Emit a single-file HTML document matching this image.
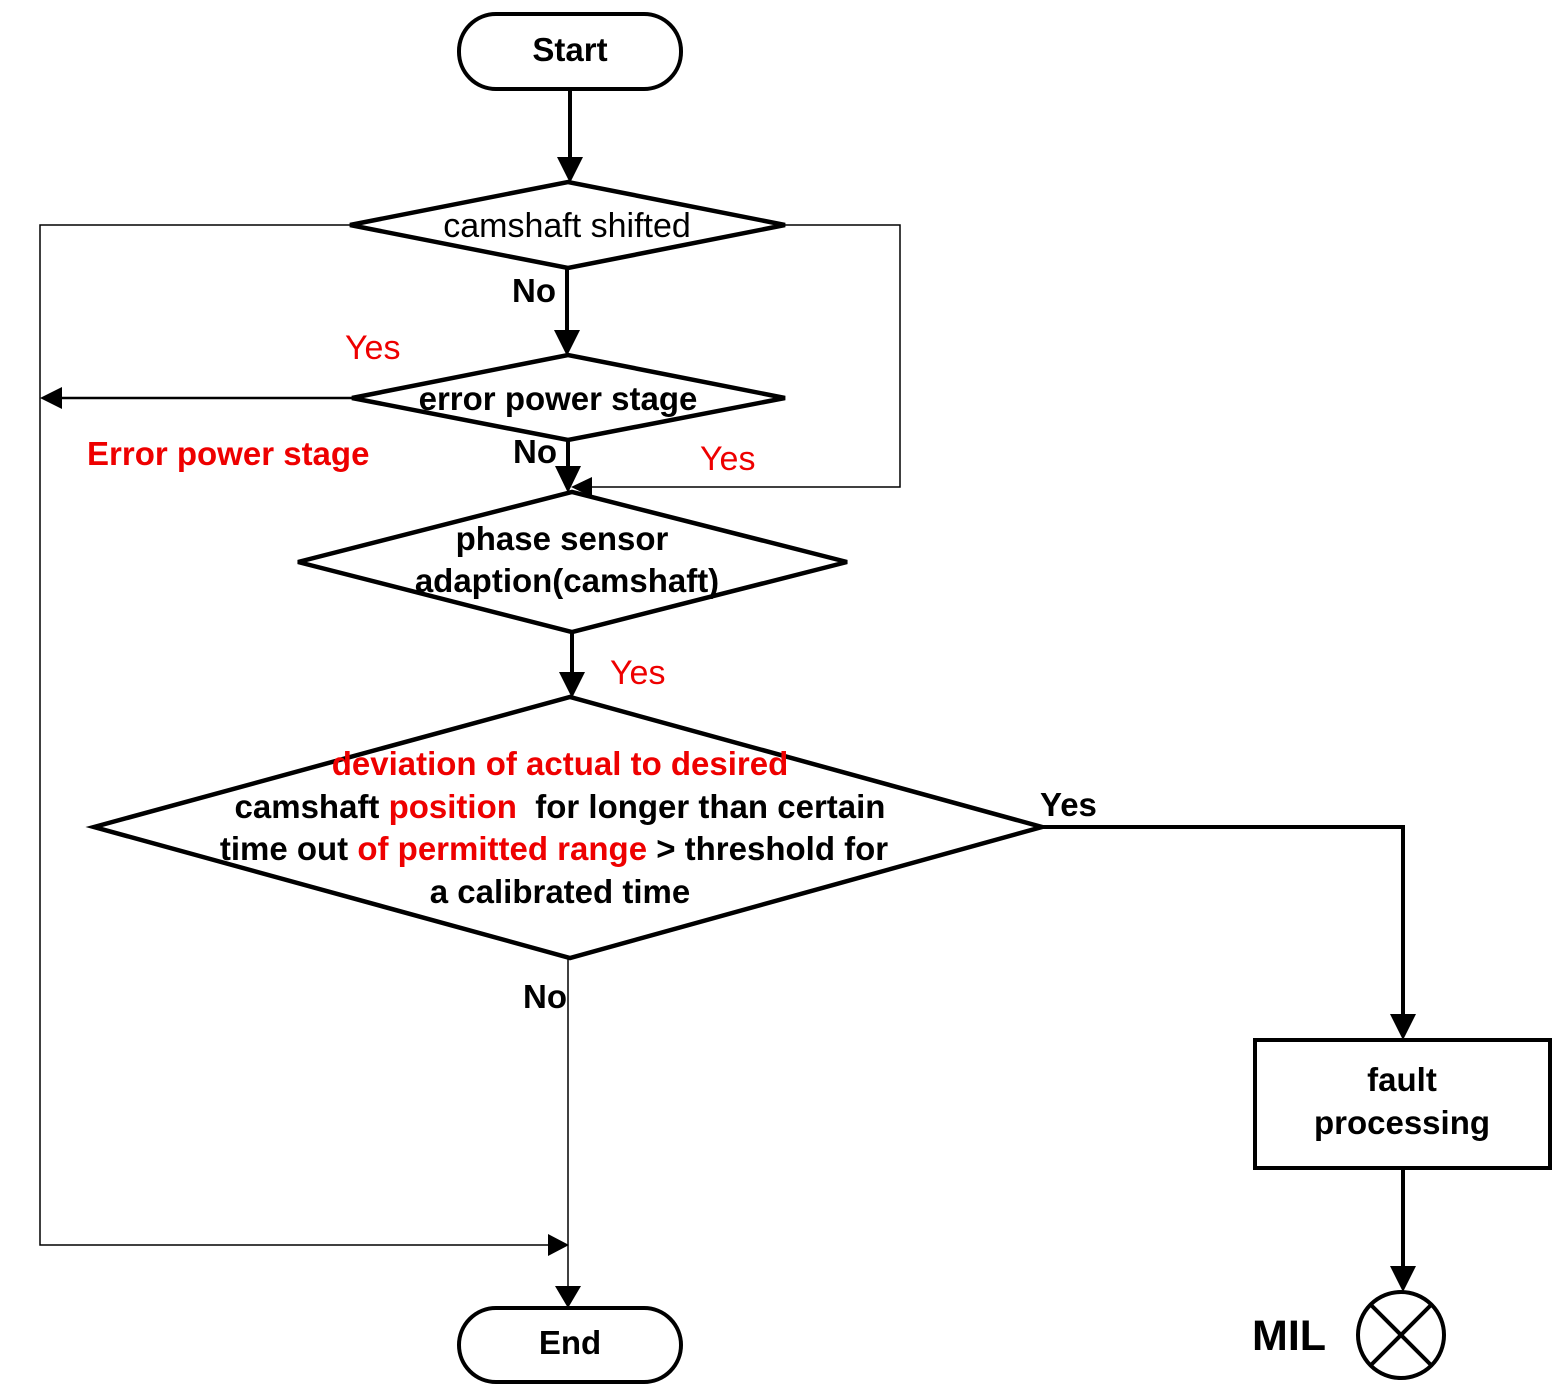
<!DOCTYPE html>
<html><head><meta charset="utf-8"><style>html,body{margin:0;padding:0;background:#fff}svg{display:block}</style></head>
<body>
<svg width="1560" height="1398" viewBox="0 0 1560 1398" xmlns="http://www.w3.org/2000/svg" font-family="Liberation Sans, Arial, sans-serif">
<g fill="none" stroke="#000">
<rect x="459" y="14" width="222" height="75" rx="37" stroke-width="4"/>
<rect x="459" y="1308" width="222" height="74" rx="37" stroke-width="4"/>
<polygon points="350,225 568,182 785,225 568,268" stroke-width="4.5"/>
<polygon points="352,398 568,355 785,398 568,440" stroke-width="4.5"/>
<polygon points="298,562 572,492 847,562 572,632" stroke-width="4.5"/>
<polygon points="94,827 570,697 1042,827 570,958" stroke-width="4.5"/>
<rect x="1255" y="1040" width="295" height="128" stroke-width="4"/>
<circle cx="1401" cy="1335" r="43" stroke-width="4"/>
<line x1="1371" y1="1305" x2="1431" y2="1365" stroke-width="4"/>
<line x1="1431" y1="1305" x2="1371" y2="1365" stroke-width="4"/>
<polyline points="350,225 40,225 40,1245 548,1245" stroke-width="1.5"/>
<polyline points="785,225 900,225 900,487 592,487" stroke-width="1.5"/>
<line x1="568" y1="958" x2="568" y2="1288" stroke-width="1.5"/>
<line x1="352" y1="398" x2="62" y2="398" stroke-width="2.5"/>
<polyline points="1042,827 1403,827 1403,1018" stroke-width="4"/>
<line x1="570" y1="89" x2="570" y2="160" stroke-width="4"/>
<line x1="567" y1="268" x2="567" y2="333" stroke-width="4"/>
<line x1="568" y1="440" x2="568" y2="470" stroke-width="4"/>
<line x1="572" y1="632" x2="572" y2="675" stroke-width="4"/>
<line x1="1403" y1="1168" x2="1403" y2="1270" stroke-width="4"/>
</g>
<g fill="#000">
<path d="M557,157 L583,157 L570,183z"/>
<path d="M554,330 L580,330 L567,356z"/>
<path d="M555,466 L581,466 L568,493z"/>
<path d="M559,672 L585,672 L572,698z"/>
<path d="M1390,1014 L1416,1014 L1403,1040z"/>
<path d="M1390,1266 L1416,1266 L1403,1292z"/>
<path d="M548,1234 L548,1256 L569,1245z"/>
<path d="M555,1286 L581,1286 L568,1308z"/>
<path d="M592,477 L592,497 L571,487z"/>
<path d="M62,387 L62,409 L40,398z"/>
</g>
<g font-size="33" text-anchor="middle">
<text x="570" y="61" font-weight="bold">Start</text>
<text x="570" y="1354" font-weight="bold">End</text>
<text x="567" y="237" font-size="34">camshaft shifted</text>
<text x="558" y="410" font-weight="bold">error power stage</text>
<text x="562" y="550" font-weight="bold">phase sensor</text>
<text x="567" y="592" font-weight="bold">adaption(camshaft)</text>
<text x="560" y="775" font-weight="bold" fill="#e00">deviation of actual to desired</text>
<text x="560" y="818" font-weight="bold" xml:space="preserve">camshaft <tspan fill="#e00">position</tspan>  for longer than certain</text>
<text x="554" y="860" font-weight="bold">time out <tspan fill="#e00">of permitted range</tspan> &gt; threshold for</text>
<text x="560" y="903" font-weight="bold">a calibrated time</text>
<text x="1402" y="1091" font-weight="bold">fault</text>
<text x="1402" y="1134" font-weight="bold">processing</text>
</g>
<g font-size="33">
<text x="512" y="302" font-weight="bold">No</text>
<text x="513" y="463" font-weight="bold">No</text>
<text x="523" y="1008" font-weight="bold">No</text>
<text x="1040" y="816" font-weight="bold">Yes</text>
<text x="345" y="359" fill="#e00" font-size="34">Yes</text>
<text x="700" y="470" fill="#e00" font-size="34">Yes</text>
<text x="610" y="684" fill="#e00" font-size="34">Yes</text>
<text x="87" y="465" font-weight="bold" fill="#e00">Error power stage</text>
<text x="1252" y="1350" font-weight="bold" font-size="43">MIL</text>
</g>
</svg>
</body></html>
